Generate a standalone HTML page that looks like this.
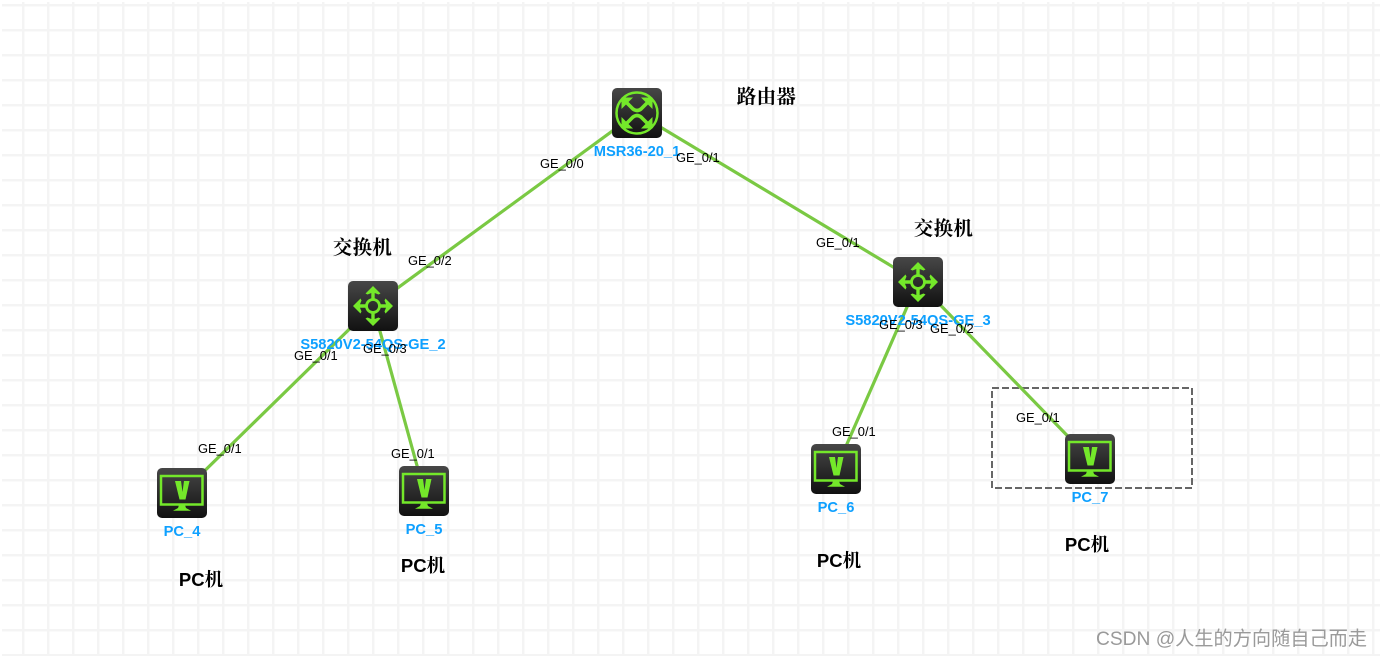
<!DOCTYPE html>
<html>
<head>
<meta charset="utf-8">
<style>
html,body{margin:0;padding:0;background:#fff;width:1382px;height:658px;overflow:hidden}
svg{display:block}
.p{font:12.9px "Liberation Sans",sans-serif;fill:#000}
.n{font:bold 14.7px "Liberation Sans",sans-serif;fill:#0ea0ff;text-anchor:middle}
.c{font:bold 19.5px "Liberation Serif","Noto Serif CJK SC",serif;fill:#000;text-anchor:middle;letter-spacing:.3px}
.d{font:bold 18.5px "Liberation Sans","Noto Serif CJK SC",sans-serif;fill:#000;text-anchor:middle}
.w{font:19.2px "Liberation Sans","Noto Sans CJK SC",sans-serif;fill:#9a9a9a}
</style>
</head>
<body>
<svg width="1382" height="658" viewBox="0 0 1382 658" xmlns="http://www.w3.org/2000/svg">
<defs>
<pattern id="g" x="2" y="4" width="25" height="25" patternUnits="userSpaceOnUse">
<rect x="0" y="0" width="25" height="2.5" fill="#f4f4f4"/>
<rect x="20" y="0" width="2.5" height="25" fill="#f4f4f4"/>
</pattern>
<linearGradient id="b" x1="0" y1="0" x2="0" y2="1">
<stop offset="0" stop-color="#474747"/><stop offset="1" stop-color="#111"/>
</linearGradient>
<g id="pc">
<rect width="50" height="50" rx="5" fill="url(#b)"/>
<rect x="4" y="8" width="41.5" height="28.5" fill="none" stroke="#74e82a" stroke-width="2.5"/>
<polygon points="18,13 24,13 25.5,24 27,13 32.5,13 28.5,31.5 22.5,31.5" fill="#74e82a"/>
<polygon points="22,37 28,37 29,40 34,42.7 16,42.7 21,40" fill="#74e82a"/>
</g>
<g id="arrow">
<polygon points="0,-20 7.5,-12.5 5.5,-11.5 1.7,-13 1.7,-7 -1.7,-7 -1.7,-13 -5.5,-11.5 -7.5,-12.5" fill="#74e82a"/>
</g>
<g id="sw">
<rect width="50" height="50" rx="5" fill="url(#b)"/>
<g transform="translate(25,25)">
<circle r="6.5" fill="none" stroke="#74e82a" stroke-width="2.8"/>
<use href="#arrow"/><use href="#arrow" transform="rotate(90)"/><use href="#arrow" transform="rotate(180)"/><use href="#arrow" transform="rotate(270)"/>
</g>
</g>
<g id="rt">
<rect width="50" height="50" rx="5" fill="url(#b)"/>
<g transform="translate(25,25)">
<circle r="20.5" fill="none" stroke="#74e82a" stroke-width="2.5"/>
<polygon points="-15.5,-15.5 -4,-15.5 -15.5,-4" fill="#74e82a"/>
<polygon points="15.5,-15.5 4,-15.5 15.5,-4" fill="#74e82a"/>
<polygon points="-15.5,15.5 -4,15.5 -15.5,4" fill="#74e82a"/>
<polygon points="15.5,15.5 4,15.5 15.5,4" fill="#74e82a"/>
<path d="M-12,-12 L-4,-4 Q0,-1 4,-4 L12,-12 M-12,12 L-4,4 Q0,1 4,4 L12,12" fill="none" stroke="#74e82a" stroke-width="3.6"/>
</g>
</g>
</defs>

<rect x="2" y="2" width="1378" height="654" fill="url(#g)"/>

<rect x="992" y="388" width="200" height="100" fill="none" stroke="#666" stroke-width="2" stroke-dasharray="7 3"/>

<g stroke="#7ac943" stroke-width="3.2" fill="none">
<line x1="637" y1="113" x2="373" y2="306"/>
<line x1="637" y1="113" x2="918" y2="282"/>
<line x1="373" y1="306" x2="182" y2="493"/>
<line x1="373" y1="306" x2="424" y2="491"/>
<line x1="918" y1="282" x2="836" y2="469"/>
<line x1="918" y1="282" x2="1090" y2="459"/>
</g>

<use href="#rt" x="612" y="88"/>
<use href="#sw" x="348" y="281"/>
<use href="#sw" x="893" y="257"/>
<use href="#pc" x="157" y="468"/>
<use href="#pc" x="399" y="466"/>
<use href="#pc" x="811" y="444"/>
<use href="#pc" x="1065" y="434"/>

<text class="n" x="637" y="156">MSR36-20_1</text>
<text class="n" x="373" y="349">S5820V2-54QS-GE_2</text>
<text class="n" x="918" y="325">S5820V2-54QS-GE_3</text>
<text class="n" x="182" y="536">PC_4</text>
<text class="n" x="424" y="534">PC_5</text>
<text class="n" x="836" y="512">PC_6</text>
<text class="n" x="1090" y="502">PC_7</text>

<text class="p" x="540" y="168">GE_0/0</text>
<text class="p" x="676" y="162">GE_0/1</text>
<text class="p" x="408" y="265">GE_0/2</text>
<text class="p" x="816" y="247">GE_0/1</text>
<text class="p" x="294" y="360">GE_0/1</text>
<text class="p" x="363" y="353">GE_0/3</text>
<text class="p" x="198" y="453">GE_0/1</text>
<text class="p" x="391" y="458">GE_0/1</text>
<text class="p" x="879" y="329">GE_0/3</text>
<text class="p" x="930" y="333">GE_0/2</text>
<text class="p" x="832" y="436">GE_0/1</text>
<text class="p" x="1016" y="422">GE_0/1</text>

<text class="c" x="766.5" y="103">路由器</text>
<text class="c" x="362.5" y="254">交换机</text>
<text class="c" x="943.5" y="235">交换机</text>
<text class="d" x="201" y="586">PC机</text>
<text class="d" x="423" y="572">PC机</text>
<text class="d" x="839" y="567">PC机</text>
<text class="d" x="1087" y="551">PC机</text>

<text class="w" x="1096" y="645">CSDN @人生的方向随自己而走</text>
</svg>
</body>
</html>
